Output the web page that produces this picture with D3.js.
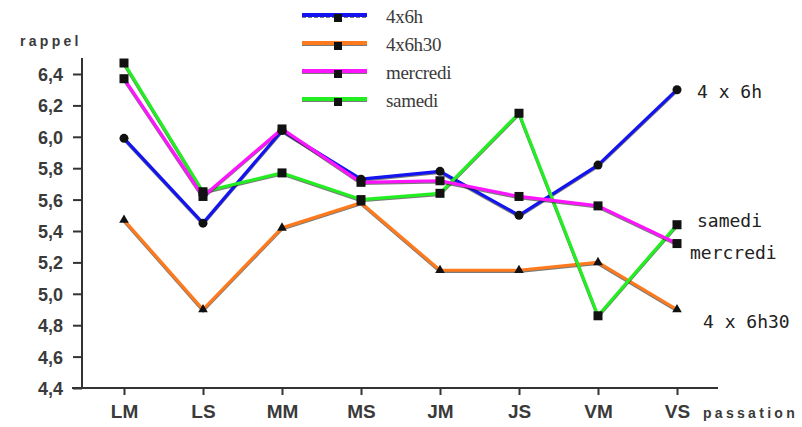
<!DOCTYPE html>
<html>
<head>
<meta charset="utf-8">
<script src="https://cdn.jsdelivr.net/npm/d3@7"></script>
<style>
  body { margin: 0; background: white; }
  #canvas-div { width: 802px; height: 427px; }
  .axis text { font-family: "Liberation Sans", Arial, sans-serif; font-weight: bold; fill: #3a3a3a; }
  .axis path, .axis line { stroke: #333; stroke-width: 2; }
</style>
</head>
<body>
<div id="canvas-div"></div>
<script>
// data
const categories = ["LM", "LS", "MM", "MS", "JM", "JS", "VM", "VS"];
const yTicks = [4.4, 4.6, 4.8, 5.0, 5.2, 5.4, 5.6, 5.8, 6.0, 6.2, 6.4];
const serie4x6h = [5.99, 5.45, 6.04, 5.73, 5.78, 5.50, 5.82, 6.30];
const serie4x6h30 = [5.47, 4.90, 5.42, 5.58, 5.15, 5.15, 5.20, 4.90];
const serieMercredi = [6.37, 5.62, 6.05, 5.71, 5.72, 5.62, 5.56, 5.32];
const serieSamedi = [6.47, 5.65, 5.77, 5.60, 5.64, 6.15, 4.86, 5.44];
const legendNames = ["4x6h", "4x6h30", "mercredi", "samedi"];
const endLabels = ["4 x 6h", "4 x 6h30", "mercredi", "samedi"];

const series = [
    { name: legendNames[1], end: endLabels[1], values: serie4x6h30, color: "#ff7a1c", marker: "triangle" },
    { name: legendNames[0], end: endLabels[0], values: serie4x6h, color: "#1414f0", marker: "circle" },
    { name: legendNames[3], end: endLabels[3], values: serieSamedi, color: "#22ee22", marker: "square" },
    { name: legendNames[2], end: endLabels[2], values: serieMercredi, color: "#ff14ff", marker: "square" }
];
const legendOrder = [1, 0, 3, 2];

const svg = d3.select("#canvas-div").append("svg")
    .attr("width", 802).attr("height", 427)
    .style("background-color", "white");

const xScale = d3.scalePoint().domain(categories).range([124, 677]);
const yScale = d3.scaleLinear().domain([4.4, 6.4]).range([388, 74]);

// axes
const xAxis = d3.axisBottom(xScale).tickSize(7).tickSizeOuter(0);
const gx = svg.append("g").attr("class", "axis")
    .attr("transform", "translate(0,388)")
    .call(xAxis);
gx.select(".domain").remove();
gx.selectAll("text").style("font-size", "19px").attr("y", 30).attr("dy", 0);
gx.append("line").attr("x1", 72).attr("x2", 718).attr("y1", 0).attr("y2", 0);

const yAxis = d3.axisLeft(yScale).tickValues(yTicks).tickSize(9).tickPadding(10)
    .tickFormat(d => d3.format(".1f")(d).replace(".", ","));
const gy = svg.append("g").attr("class", "axis")
    .attr("transform", "translate(82,0)")
    .call(yAxis);
gy.select(".domain").remove();
gy.selectAll("text").style("font-size", "18px").attr("dy", "0.36em");
gy.append("line").attr("x1", 0).attr("x2", 0).attr("y1", 389).attr("y2", 58);

svg.append("text").attr("x", 20).attr("y", 46).text("rappel")
    .style("font-family", "Liberation Sans, Arial, sans-serif").style("font-weight", "bold")
    .style("font-size", "14px").style("letter-spacing", "3.3px").attr("fill", "#3a3a3a");
svg.append("text").attr("x", 703).attr("y", 418).text("passation")
    .style("font-family", "Liberation Sans, Arial, sans-serif").style("font-weight", "bold")
    .style("font-size", "14px").style("letter-spacing", "3.3px").attr("fill", "#3a3a3a");

function drawMarker(g, type, x, y) {
    if (type === "circle") {
        g.append("circle").attr("cx", x).attr("cy", y).attr("r", 4.5).attr("fill", "#111");
    } else if (type === "triangle") {
        g.append("path").attr("d", d3.symbol(d3.symbolTriangle, 40)()).attr("transform", `translate(${x},${y})`).attr("fill", "#111");
    } else {
        g.append("rect").attr("x", x - 4.5).attr("y", y - 4.5).attr("width", 9).attr("height", 9).attr("fill", "#111");
    }
}

// lines
const lineGenerator = d3.line()
    .x((d, i) => xScale(categories[i]))
    .y(d => yScale(d));

series.forEach(s => {
    svg.append("path").datum(s.values)
        .attr("d", lineGenerator).attr("fill", "none")
        .attr("stroke", "#222").attr("stroke-width", 3)
        .attr("transform", "translate(0,1.2)").attr("opacity", 0.6);
    svg.append("path").datum(s.values)
        .attr("d", lineGenerator).attr("fill", "none")
        .attr("stroke", s.color).attr("stroke-width", 3.2)
        .attr("stroke-linejoin", "round");
});

// points
series.forEach(s => {
    const g = svg.append("g");
    s.values.forEach((v, i) => drawMarker(g, s.marker, xScale(categories[i]), yScale(v)));
});

// legend
const legend = svg.append("g");
legendOrder.forEach((k, i) => {
    const s = series[k];
    const y = 15 + i * 28;
    legend.append("line").attr("x1", 302).attr("x2", 367).attr("y1", y + 2).attr("y2", y + 2)
        .attr("stroke", "#222").attr("stroke-width", 2).attr("opacity", 0.6)
        .attr("stroke-dasharray", i === 0 ? "4,2" : null);
    legend.append("line").attr("x1", 302).attr("x2", 367).attr("y1", y).attr("y2", y)
        .attr("stroke", s.color).attr("stroke-width", 4);
    legend.append("rect").attr("x", 334).attr("y", y - 1).attr("width", 8).attr("height", 8).attr("fill", "#111");
    legend.append("text").attr("x", 386).attr("y", y + 8).text(s.name)
        .style("font-family", "Liberation Serif, Times New Roman, serif")
        .style("font-size", "19px").style("letter-spacing", "-0.3px").attr("fill", "#3a3a3a");
});

// labels at the end of lines
const endPos = { "4 x 6h": [697, 98], "samedi": [697, 227], "mercredi": [690, 259], "4 x 6h30": [703, 328] };
series.forEach(s => {
    svg.append("text").attr("x", endPos[s.end][0]).attr("y", endPos[s.end][1]).text(s.end)
        .style("font-family", "DejaVu Sans Mono, monospace").style("font-size", "18px")
        .attr("fill", "#222");
});
</script>
</body>
</html>
